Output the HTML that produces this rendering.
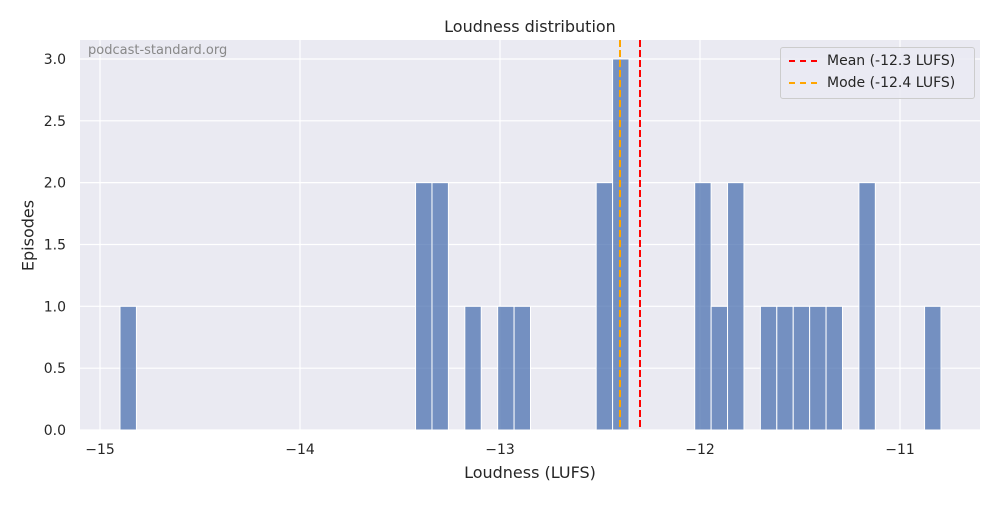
<!DOCTYPE html>
<html><head><meta charset="utf-8"><style>
body{margin:0;background:#fff;font-family:"Liberation Sans","DejaVu Sans",sans-serif}
svg text{font-family:"DejaVu Sans","Liberation Sans",sans-serif}
</style></head><body>
<svg id="c" width="1000" height="500" xmlns="http://www.w3.org/2000/svg"></svg>
<script>
const binStart=-14.9;
const binWidth=0.0821;
const binIndex=[0,18,19,21,23,24,29,30,35,36,37,39,40,41,42,43,45,49];
const counts=[1,2,2,1,1,1,2,3,2,1,2,1,1,1,1,1,2,1];
const xTicks=[-15,-14,-13,-12,-11];
const xTickLabels=["\u221215","\u221214","\u221213","\u221212","\u221211"];
const yTicks=[0,0.5,1.0,1.5,2.0,2.5,3.0];
const yTickLabels=["0.0","0.5","1.0","1.5","2.0","2.5","3.0"];
const meanVal=-12.3, modeVal=-12.4;
const L=80,R=980,T=40,B=430;
const sx=v=>100+(v+15)*200;
const sy=v=>B-v*123.67;
const svg=document.getElementById('c');
const NS='http://www.w3.org/2000/svg';
function mk(tag,attrs,parent){const e=document.createElementNS(NS,tag);for(const k in attrs)e.setAttribute(k,attrs[k]);(parent||svg).appendChild(e);return e;}
let bg=mk('rect',{x:L,y:T,width:R-L,height:B-T,fill:'#eaeaf2'});


xTicks.forEach((t,i)=>{
 let g=mk('line',{x1:sx(t),x2:sx(t),y1:T,y2:B,stroke:'#fff','stroke-width':1.2});
 
 
 let tx=mk('text',{x:sx(t),y:454,'text-anchor':'middle','font-size':14,fill:'#262626'});
 tx.textContent=xTickLabels[i];
 
 
});
yTicks.forEach((t,i)=>{
 let g=mk('line',{x1:L,x2:R,y1:sy(t),y2:sy(t),stroke:'#fff','stroke-width':1.2});
 
 
 let tx=mk('text',{x:L-14,y:sy(t)+5,'text-anchor':'end','font-size':14,fill:'#262626'});
 tx.textContent=yTickLabels[i];
 
 
});
binIndex.forEach((b,i)=>{
 const x0=binStart+b*binWidth;
 let r=mk('rect',{x:sx(x0),y:sy(counts[i]),width:sx(x0+binWidth)-sx(x0),height:sy(0)-sy(counts[i]),fill:'#4c72b0','fill-opacity':0.75,stroke:'#fff','stroke-width':1});
 
 
});
let ml=mk('line',{x1:sx(meanVal),x2:sx(meanVal),y1:T,y2:B,stroke:'red','stroke-width':2,'stroke-dasharray':'7,3'});


let mo=mk('line',{x1:sx(modeVal),x2:sx(modeVal),y1:T,y2:B,stroke:'orange','stroke-width':2,'stroke-dasharray':'7,3'});


</script>
<svg width="0" height="0"></svg>
<div style="position:absolute;left:0;top:0;width:1000px;height:500px;pointer-events:none">
<div style="position:absolute;left:0;width:1060px;top:17px;text-align:center;font:16px 'DejaVu Sans','Liberation Sans',sans-serif;color:#262626">Loudness distribution</div>
<div style="position:absolute;left:88px;top:43px;font:13px 'DejaVu Sans','Liberation Sans',sans-serif;color:#888">podcast-standard.org</div>
<div style="position:absolute;left:80px;width:900px;top:463px;text-align:center;font:16px 'DejaVu Sans','Liberation Sans',sans-serif;color:#262626">Loudness (LUFS)</div>
<div style="position:absolute;left:-12px;top:226px;width:80px;text-align:center;transform:rotate(-90deg);font:16px 'DejaVu Sans','Liberation Sans',sans-serif;color:#262626">Episodes</div>
<div style="position:absolute;left:780px;top:47px;width:193px;height:50px;background:rgba(234,234,242,0.8);border:1px solid #ccc;border-radius:3px;font:14px 'DejaVu Sans','Liberation Sans',sans-serif;color:#262626">
 <div style="position:absolute;left:8px;top:5px;white-space:nowrap"><span style="display:inline-block;width:28px;border-top:2px dashed red;vertical-align:middle;margin-right:10px"></span>Mean (-12.3 LUFS)</div>
 <div style="position:absolute;left:8px;top:27px;white-space:nowrap"><span style="display:inline-block;width:28px;border-top:2px dashed orange;vertical-align:middle;margin-right:10px"></span>Mode (-12.4 LUFS)</div>
</div>
</div>
</body></html>
